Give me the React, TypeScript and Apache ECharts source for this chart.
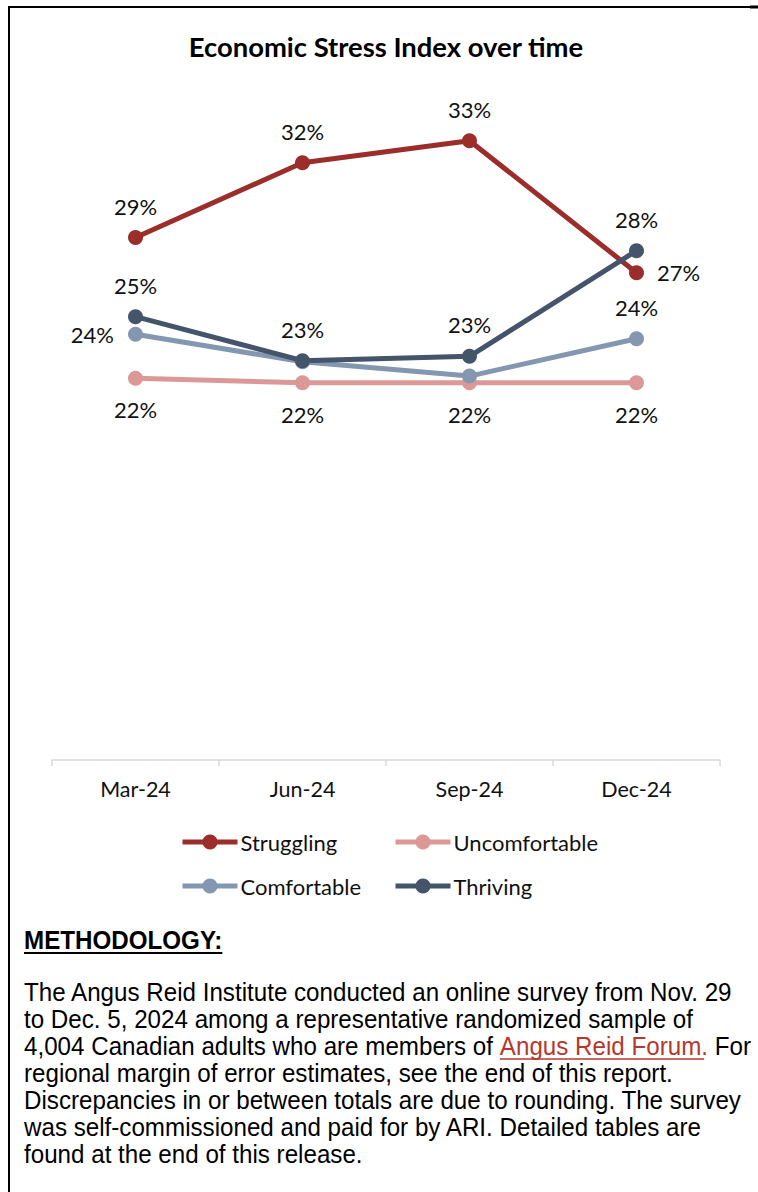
import React, { useEffect, useRef } from "react";
import * as echarts from "echarts";

const categories = ["Mar-24", "Jun-24", "Sep-24", "Dec-24"];
const seriesNames = ["Struggling", "Uncomfortable", "Comfortable", "Thriving"];
const struggling = [28.6, 32.0, 33.0, 27.0];
const uncomfortable = [22.2, 22.0, 22.0, 22.0];
const comfortable = [24.2, 22.95, 22.3, 24.0];
const thriving = [25.0, 23.0, 23.2, 28.0];
const colors = ["#9B2D2A", "#DC9896", "#8497B0", "#44546A"];

const titleText = "Economic Stress Index over time";
const methodologyHeading = "METHODOLOGY:";
const methodologyLines = [
  "The Angus Reid Institute conducted an online survey from Nov. 29",
  "to Dec. 5, 2024 among a representative randomized sample of",
  "__LINK__",
  "regional margin of error estimates, see the end of this report.",
  "Discrepancies in or between totals are due to rounding. The survey",
  "was self-commissioned and paid for by ARI. Detailed tables are",
  "found at the end of this release.",
];
const linkPre = "4,004 Canadian adults who are members of ";
const linkText = "Angus Reid Forum.";
const linkPost = " For";

const LABEL_FONT = "Lato";
const PARA_FONT = "'Liberation Sans', Arial, sans-serif";
const PARA_SIZE = 26;
const PARA_SCALE = 0.93;
const LINK_COLOR = "#B5382C";

function measure(text: string, font: string): number {
  const c = document.createElement("canvas").getContext("2d");
  if (!c) return text.length * 10;
  c.font = font;
  return c.measureText(text).width;
}

export default function App() {
  const ref = useRef<HTMLDivElement>(null);
  useEffect(() => {
    if (!ref.current) return;
    const chart = echarts.init(ref.current, null, { renderer: "svg" });
    const fmt = (p: any) => Math.round(p.value) + "%";
    const labelBase = {
      show: true,
      formatter: fmt,
      fontFamily: LABEL_FONT,
      fontSize: 22,
      color: "#111",
      distance: 13,
    };
    const mkSeries = (name: string, data: number[], color: string, labelCfg: any[]) => ({
      name,
      type: "line",
      data: data.map((v, i) => ({ value: v, label: labelCfg[i] })),
      symbol: "circle",
      symbolSize: 15,
      lineStyle: { width: 5, color },
      itemStyle: { color },
      label: labelBase,
      emphasis: { disabled: true },
    });

    const paraFont = `${PARA_SIZE}px 'Liberation Sans', Arial, sans-serif`;
    const preW = measure(linkPre, paraFont) * PARA_SCALE;
    const linkW = measure(linkText, paraFont) * PARA_SCALE;
    const headFont = `bold ${PARA_SIZE}px 'Liberation Sans', Arial, sans-serif`;
    const headW = measure(methodologyHeading, headFont) * PARA_SCALE;

    const paraGraphics: any[] = [];
    methodologyLines.forEach((line, i) => {
      const y = 992 + i * 27;
      if (line === "__LINK__") {
        paraGraphics.push({
          type: "text",
          x: 24,
          y,
          scaleX: PARA_SCALE,
          style: {
            text: `{a|${linkPre}}{b|${linkText}}{a|${linkPost}}`,
            verticalAlign: "middle",
            rich: {
              a: { fontFamily: PARA_FONT, fontSize: PARA_SIZE, fill: "#000", color: "#000" },
              b: { fontFamily: PARA_FONT, fontSize: PARA_SIZE, fill: LINK_COLOR, color: LINK_COLOR },
            },
          },
        });
        paraGraphics.push({
          type: "line",
          shape: { x1: 24 + preW, y1: y + 13, x2: 24 + preW + linkW - 4, y2: y + 13 },
          style: { stroke: LINK_COLOR, lineWidth: 1.5 },
        });
      } else {
        paraGraphics.push({
          type: "text",
          x: 24,
          y,
          scaleX: PARA_SCALE,
          style: {
            text: line,
            fontFamily: PARA_FONT,
            fontSize: PARA_SIZE,
            fill: "#000",
            verticalAlign: "middle",
          },
        });
      }
    });
    chart.setOption({
      animation: false,
      backgroundColor: "#fff",
      grid: { left: 52, right: 38, top: 100, height: 660 },
      xAxis: {
        type: "category",
        data: categories,
        boundaryGap: true,
        axisLine: { lineStyle: { color: "#D9D9D9", width: 1.5 } },
        axisTick: { show: true, length: 6, lineStyle: { color: "#D9D9D9", width: 1.5 } },
        axisLabel: { fontFamily: LABEL_FONT, fontSize: 21.5, color: "#111", margin: 18 },
      },
      yAxis: {
        type: "value",
        min: 4.85,
        max: 34.85,
        show: false,
        splitLine: { show: false },
      },
      legend: [0, 1, 2, 3].map((i) => ({
        data: [seriesNames[i]],
        left: i % 2 === 0 ? 180 : 393,
        top: i < 2 ? 831 : 875,
        padding: 0,
        itemWidth: 55,
        itemHeight: 19,
        itemGap: 0,
        lineStyle: { width: 5 },
        textStyle: { fontFamily: LABEL_FONT, fontSize: 22, color: "#111", padding: [0, 0, 0, -2] },
        selectedMode: false,
      })),
      series: [
        mkSeries("Struggling", struggling, colors[0], [
          { position: "top" },
          { position: "top" },
          { position: "top" },
          { position: "right" },
        ]),
        mkSeries("Uncomfortable", uncomfortable, colors[1], [
          { position: "bottom" },
          { position: "bottom" },
          { position: "bottom" },
          { position: "bottom" },
        ]),
        mkSeries("Comfortable", comfortable, colors[2], [
          { position: "left", distance: 14 },
          { show: false },
          { show: false },
          { position: "top" },
        ]),
        mkSeries("Thriving", thriving, colors[3], [
          { position: "top" },
          { position: "top" },
          { position: "top" },
          { position: "top" },
        ]),
      ],
      graphic: [
        { type: "line", shape: { x1: 9, y1: 7, x2: 750, y2: 7 }, style: { stroke: "#000", lineWidth: 2 } },
        { type: "line", shape: { x1: 9, y1: 6, x2: 9, y2: 1192 }, style: { stroke: "#000", lineWidth: 2 } },
        { type: "line", shape: { x1: 750, y1: 7, x2: 758, y2: 7 }, style: { stroke: "#000", lineWidth: 3 } },
        {
          type: "text",
          x: 386,
          y: 46,
          style: {
            text: titleText,
            fontFamily: LABEL_FONT,
            fontWeight: "bold",
            fontSize: 27.4,
            fill: "#000",
            textAlign: "center",
            verticalAlign: "middle",
          },
        },
        {
          type: "text",
          x: 24,
          y: 940,
          scaleX: PARA_SCALE,
          style: {
            text: methodologyHeading,
            fontFamily: PARA_FONT,
            fontWeight: "bold",
            fontSize: PARA_SIZE,
            fill: "#000",
            verticalAlign: "middle",
          },
        },
        {
          type: "line",
          shape: { x1: 24, y1: 953, x2: 24 + headW, y2: 953 },
          style: { stroke: "#000", lineWidth: 2 },
        },
        ...paraGraphics,
      ],
    });
    return () => chart.dispose();
  }, []);
  return (
    <div
      ref={ref}
      style={{ position: "absolute", left: 0, top: 0, width: 758, height: 1192, background: "#fff" }}
    />
  );
}
